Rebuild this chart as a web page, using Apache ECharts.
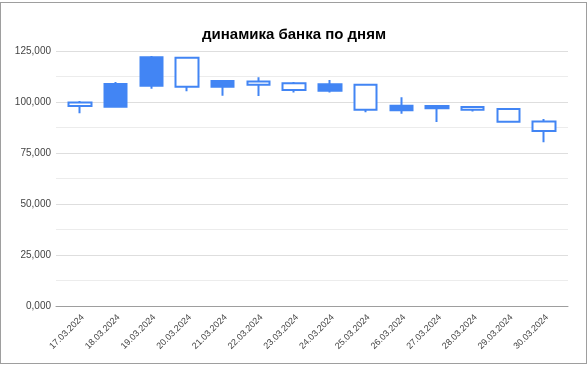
<!DOCTYPE html>
<html>
<head>
<meta charset="utf-8">
<title>динамика банка по дням</title>
<script src="https://cdn.jsdelivr.net/npm/echarts@6/dist/echarts.min.js"></script>
<style>
	html, body { margin: 0; padding: 0; background: #fff; }
	#chart { width: 588px; height: 367px; }
	#frame { position: absolute; left: 0; top: 2px; width: 587px; height: 362px; box-sizing: border-box; border: 1px solid #9e9e9e; pointer-events: none; }
</style>
</head>
<body>
<div id="chart"></div>
<div id="frame"></div>
<script type="text/javascript">
	// данные по дням
	var days = ['17.03.2024', '18.03.2024', '19.03.2024', '20.03.2024', '21.03.2024', '22.03.2024', '23.03.2024',
		'24.03.2024', '25.03.2024', '26.03.2024', '27.03.2024', '28.03.2024', '29.03.2024', '30.03.2024'];
	var openVals  = [98000, 108800, 121900, 107500, 110300, 108500, 105900, 108700, 96200, 98200, 98000, 96200, 90300, 85800];
	var closeVals = [99800, 97700, 108000, 121700, 107500, 110000, 109200, 105500, 108500, 95900, 96900, 97500, 96600, 90500];
	var lowVals   = [94500, 97700, 106500, 105300, 103100, 102900, 104600, 104600, 95000, 94300, 90200, 95400, 90300, 80300];
	var highVals  = [100500, 109800, 122500, 122000, 110300, 112100, 109800, 110800, 108500, 102300, 98000, 98000, 97100, 91700];
	var yTicks = [0, 25000, 50000, 75000, 100000, 125000];

	var candles = days.map(function (d, i) {
		return [openVals[i], closeVals[i], lowVals[i], highVals[i]];
	});

	function fmt(v) {
		if (v === 0) return '0,000';
		return String(v).replace(/\B(?=(\d{3})+(?!\d))/g, ',');
	}

	var blue = '#4285f4';
	var font = 'Arial, "Liberation Sans", sans-serif';

	option = {
		animation: false,
		title: {
			text: 'динамика банка по дням',
			left: 'center',
			top: 22,
			textStyle: { fontFamily: font, fontSize: 15, fontWeight: 'bold', color: '#000' }
		},
		grid: [
			{ left: 56, right: 20, top: 51, bottom: 61 },
			{ left: 62, right: 26, top: 51, bottom: 61 },
			// подписи дат чуть правее центров свечей
			{ left: 65, right: 23, top: 51, bottom: 61 }
		],
		xAxis: [
			{
				gridIndex: 0, type: 'value', min: 0, max: 1,
				axisLabel: { show: false }, axisTick: { show: false }, splitLine: { show: false },
				axisLine: { show: true, lineStyle: { color: '#9e9e9e', width: 1 } }
			},
			{
				gridIndex: 1, type: 'category', data: days,
				axisLine: { show: false }, axisTick: { show: false }, axisLabel: { show: false }
			},
			{
				gridIndex: 2, type: 'category', data: days,
				axisLine: { show: false }, axisTick: { show: false },
				axisLabel: { rotate: 45, interval: 0, margin: 10, fontFamily: font, fontSize: 9, color: '#444' }
			}
		],
		yAxis: [
			{
				gridIndex: 0, type: 'value', min: yTicks[0], max: yTicks[yTicks.length - 1], interval: 25000,
				axisLine: { show: false }, axisTick: { show: false },
				axisLabel: { formatter: fmt, margin: 5, fontFamily: font, fontSize: 10, color: '#444' },
				splitLine: { lineStyle: { color: '#dedede' } },
				minorTick: { show: false, splitNumber: 2 },
				minorSplitLine: { show: true, lineStyle: { color: '#ececec' } }
			},
			{
				gridIndex: 1, type: 'value', min: yTicks[0], max: yTicks[yTicks.length - 1],
				show: false, splitLine: { show: false }
			},
			{
				gridIndex: 2, type: 'value', min: yTicks[0], max: yTicks[yTicks.length - 1],
				show: false, splitLine: { show: false }
			}
		],
		series: [
			{
				type: 'candlestick',
				xAxisIndex: 1,
				yAxisIndex: 1,
				barWidth: 23,
				data: candles,
				itemStyle: {
					color: '#ffffff',
					color0: blue,
					borderColor: blue,
					borderColor0: blue,
					borderWidth: 2
				}
			}
		]
	};

	var myChart = echarts.init(document.getElementById('chart'));
	myChart.setOption(option);
</script>
</body>
</html>
